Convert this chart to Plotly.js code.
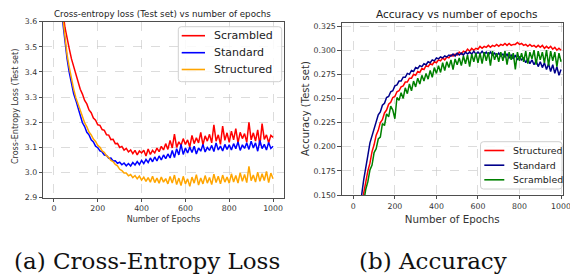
<!DOCTYPE html>
<html>
<head>
<meta charset="utf-8">
<script src="https://cdn.plot.ly/plotly-3.0.1.min.js"></script>
<style>html,body{margin:0;padding:0;background:#fff;}#chart{width:570px;height:275px;}</style>
</head>
<body>
<div id="chart"></div>
<script>
// Epochs: 10, 20, ..., 1000 (x0 = 10, dx = 10)
const EPOCH_START = 10;
const EPOCH_STEP = 10;

// ---- (a) Cross-entropy loss (test set) ----
const lossScrambled = [
  4.40, 4.10, 3.85, 3.65, 3.578, 3.528, 3.492, 3.452, 3.423, 3.388,
  3.362, 3.331, 3.312, 3.287, 3.273, 3.249, 3.238, 3.217, 3.208, 3.190,
  3.188, 3.171, 3.168, 3.150, 3.149, 3.131, 3.132, 3.115, 3.116, 3.100,
  3.104, 3.089, 3.096, 3.082, 3.090, 3.075, 3.088, 3.070, 3.086, 3.078,
  3.089, 3.066, 3.094, 3.072, 3.088, 3.078, 3.097, 3.083, 3.104, 3.090,
  3.115, 3.092, 3.128, 3.098, 3.153, 3.100, 3.122, 3.108, 3.135, 3.112,
  3.130, 3.102, 3.148, 3.115, 3.138, 3.118, 3.160, 3.110, 3.146, 3.125,
  3.152, 3.118, 3.190, 3.125, 3.150, 3.112, 3.185, 3.128, 3.158, 3.120,
  3.165, 3.130, 3.175, 3.118, 3.160, 3.135, 3.155, 3.120, 3.200, 3.130,
  3.158, 3.125, 3.170, 3.108, 3.195, 3.132, 3.150, 3.118, 3.148, 3.140
];
const lossStandard = [
  4.30, 4.00, 3.78, 3.60, 3.518, 3.452, 3.398, 3.357, 3.313, 3.287,
  3.252, 3.228, 3.198, 3.183, 3.160, 3.150, 3.130, 3.122, 3.105, 3.099,
  3.086, 3.082, 3.070, 3.068, 3.057, 3.058, 3.046, 3.047, 3.037, 3.041,
  3.031, 3.038, 3.027, 3.036, 3.026, 3.040, 3.030, 3.044, 3.032, 3.048,
  3.036, 3.052, 3.040, 3.058, 3.043, 3.062, 3.046, 3.066, 3.050, 3.070,
  3.055, 3.074, 3.058, 3.088, 3.060, 3.095, 3.070, 3.112, 3.072, 3.098,
  3.078, 3.102, 3.080, 3.105, 3.074, 3.098, 3.085, 3.112, 3.082, 3.100,
  3.088, 3.108, 3.084, 3.118, 3.090, 3.105, 3.086, 3.112, 3.092, 3.110,
  3.090, 3.115, 3.095, 3.122, 3.088, 3.110, 3.096, 3.118, 3.092, 3.125,
  3.098, 3.118, 3.085, 3.128, 3.095, 3.112, 3.090, 3.120, 3.096, 3.105
];
const lossStructured = [
  4.30, 4.00, 3.80, 3.62, 3.540, 3.468, 3.418, 3.368, 3.332, 3.298,
  3.274, 3.245, 3.224, 3.198, 3.182, 3.161, 3.150, 3.133, 3.124, 3.108,
  3.101, 3.086, 3.080, 3.066, 3.060, 3.048, 3.044, 3.032, 3.027, 3.013,
  3.008, 2.998, 2.998, 2.987, 2.992, 2.980, 2.988, 2.975, 2.986, 2.970,
  2.982, 2.965, 2.980, 2.962, 2.985, 2.960, 2.978, 2.958, 2.982, 2.962,
  2.976, 2.955, 2.984, 2.958, 2.990, 2.952, 2.978, 2.948, 2.985, 2.955,
  2.975, 2.945, 2.982, 2.958, 2.992, 2.950, 2.978, 2.955, 2.988, 2.958,
  2.980, 2.952, 2.994, 2.960, 2.985, 2.955, 2.990, 2.962, 2.982, 2.958,
  2.995, 2.962, 2.988, 2.958, 3.000, 2.965, 2.992, 2.960, 3.025, 2.968,
  2.990, 2.962, 3.002, 2.965, 2.995, 2.968, 3.005, 2.960, 2.998, 2.975
];

// ---- (b) Accuracy (test set) ----
const accStructured = [
  0.050, 0.080, 0.110, 0.135, 0.152, 0.164, 0.175, 0.183, 0.195, 0.202,
  0.212, 0.217, 0.225, 0.228, 0.235, 0.238, 0.244, 0.246, 0.251, 0.252,
  0.257, 0.258, 0.262, 0.263, 0.267, 0.267, 0.271, 0.271, 0.275, 0.274,
  0.278, 0.277, 0.281, 0.280, 0.284, 0.283, 0.286, 0.285, 0.288, 0.287,
  0.290, 0.289, 0.292, 0.290, 0.293, 0.292, 0.295, 0.294, 0.296, 0.295,
  0.298, 0.296, 0.299, 0.298, 0.301, 0.299, 0.302, 0.300, 0.302, 0.301,
  0.304, 0.302, 0.304, 0.303, 0.305, 0.303, 0.305, 0.304, 0.306, 0.304,
  0.306, 0.305, 0.307, 0.305, 0.307, 0.305, 0.306, 0.306, 0.308, 0.306,
  0.307, 0.305, 0.306, 0.304, 0.306, 0.304, 0.305, 0.303, 0.305, 0.303,
  0.305, 0.302, 0.304, 0.302, 0.304, 0.301, 0.303, 0.300, 0.302, 0.300
];
const accStandard = [
  0.060, 0.090, 0.120, 0.150, 0.166, 0.181, 0.191, 0.204, 0.211, 0.220,
  0.225, 0.233, 0.236, 0.243, 0.245, 0.251, 0.252, 0.257, 0.258, 0.263,
  0.264, 0.268, 0.268, 0.272, 0.272, 0.276, 0.275, 0.279, 0.278, 0.282,
  0.281, 0.284, 0.283, 0.286, 0.285, 0.288, 0.287, 0.290, 0.289, 0.292,
  0.291, 0.293, 0.292, 0.294, 0.293, 0.295, 0.294, 0.296, 0.294, 0.297,
  0.295, 0.297, 0.295, 0.298, 0.296, 0.298, 0.296, 0.299, 0.296, 0.298,
  0.296, 0.299, 0.296, 0.298, 0.295, 0.298, 0.295, 0.297, 0.294, 0.297,
  0.294, 0.296, 0.293, 0.296, 0.292, 0.295, 0.291, 0.295, 0.290, 0.293,
  0.290, 0.292, 0.287, 0.291, 0.286, 0.290, 0.285, 0.289, 0.283, 0.288,
  0.282, 0.287, 0.280, 0.286, 0.278, 0.285, 0.276, 0.283, 0.274, 0.280
];
const accScrambled = [
  0.040, 0.070, 0.100, 0.125, 0.143, 0.156, 0.164, 0.176, 0.181, 0.194,
  0.198, 0.208, 0.210, 0.224, 0.222, 0.234, 0.231, 0.242, 0.238, 0.229,
  0.251, 0.248, 0.256, 0.250, 0.261, 0.255, 0.265, 0.258, 0.268, 0.262,
  0.271, 0.265, 0.274, 0.268, 0.276, 0.270, 0.279, 0.272, 0.282, 0.276,
  0.284, 0.277, 0.287, 0.279, 0.288, 0.282, 0.290, 0.280, 0.291, 0.285,
  0.292, 0.284, 0.294, 0.286, 0.295, 0.283, 0.296, 0.288, 0.297, 0.287,
  0.297, 0.286, 0.298, 0.289, 0.298, 0.284, 0.299, 0.290, 0.297, 0.288,
  0.298, 0.289, 0.299, 0.285, 0.298, 0.290, 0.297, 0.280, 0.298, 0.289,
  0.297, 0.288, 0.299, 0.286, 0.298, 0.291, 0.300, 0.285, 0.299, 0.290,
  0.298, 0.287, 0.300, 0.284, 0.299, 0.289, 0.298, 0.283, 0.297, 0.288
];

const lossNames = ['Scrambled', 'Standard', 'Structured'];
const lossColors = ['#ff0000', '#0000ff', '#ffa500'];
const accNames = ['Structured', 'Standard', 'Scrambled'];
const accColors = ['#ff0000', '#00008b', '#008000'];

const xTicks = [0, 200, 400, 600, 800, 1000];
const lossTicks = [2.9, 3.0, 3.1, 3.2, 3.3, 3.4, 3.5, 3.6];
const accTicks = [0.150, 0.175, 0.200, 0.225, 0.250, 0.275, 0.300, 0.325];

const W = 570, H = 275;
const SANS = 'DejaVu Sans, sans-serif';
const SERIF = 'DejaVu Serif, serif';
const px = v => v / W;          // pixel x -> paper
const py = v => 1 - v / H;      // pixel y -> paper

function line(y, name, color, xa, ya) {
  return {
    type: 'scatter', mode: 'lines', name: name, showlegend: false,
    x0: EPOCH_START, dx: EPOCH_STEP, y: y,
    xaxis: xa, yaxis: ya,
    line: {color: color, width: 1.5}
  };
}

const data = [
  line(lossScrambled, lossNames[0], lossColors[0], 'x', 'y'),
  line(lossStandard, lossNames[1], lossColors[1], 'x', 'y'),
  line(lossStructured, lossNames[2], lossColors[2], 'x', 'y'),
  line(accStructured, accNames[0], accColors[0], 'x2', 'y2'),
  line(accStandard, accNames[1], accColors[1], 'x2', 'y2'),
  line(accScrambled, accNames[2], accColors[2], 'x2', 'y2')
];

function axisBase(fs) {
  return {
    showline: true, mirror: true, linecolor: '#222', linewidth: 0.8,
    ticks: 'outside', ticklen: 3.5, tickwidth: 0.8, tickcolor: '#222',
    showgrid: true, gridcolor: '#c4c4c4', griddash: 'dash', gridwidth: 0.6,
    zeroline: false, tickfont: {family: SANS, size: fs, color: '#333'},
    ticklabeloverflow: 'allow', fixedrange: true
  };
}

// Matplotlib-style legend boxes (rounded frame, line handles, labels)
const shapes = [];
const annotations = [];
function roundedBox(x0, y0, x1, y1, r) {
  const P = (x, y) => px(x) + ',' + py(y);
  return 'M' + P(x0 + r, y0) + ' L' + P(x1 - r, y0) + ' Q' + P(x1, y0) + ' ' + P(x1, y0 + r) +
    ' L' + P(x1, y1 - r) + ' Q' + P(x1, y1) + ' ' + P(x1 - r, y1) +
    ' L' + P(x0 + r, y1) + ' Q' + P(x0, y1) + ' ' + P(x0, y1 - r) +
    ' L' + P(x0, y0 + r) + ' Q' + P(x0, y0) + ' ' + P(x0 + r, y0) + ' Z';
}
function legendBox(names, colors, box, rows, handle, textX, fs) {
  shapes.push({
    type: 'path', xref: 'paper', yref: 'paper', layer: 'above',
    path: roundedBox(box[0], box[1], box[2], box[3], 3),
    fillcolor: 'rgba(255,255,255,0.85)', line: {color: '#d0d0d0', width: 1}
  });
  names.forEach((n, i) => {
    shapes.push({
      type: 'line', xref: 'paper', yref: 'paper', layer: 'above',
      x0: px(handle[0]), x1: px(handle[1]), y0: py(rows[i]), y1: py(rows[i]),
      line: {color: colors[i], width: 1.6}
    });
    annotations.push({
      text: n, xref: 'paper', yref: 'paper', x: px(textX), y: py(rows[i]),
      xanchor: 'left', yanchor: 'middle', showarrow: false, borderpad: 0,
      font: {family: SANS, size: fs, color: '#222'}
    });
  });
}
legendBox(lossNames, lossColors, [178.3, 26.7, 281.7, 81.7], [35.7, 52.7, 69.5], [181.7, 205], 213, 11);
legendBox(accNames, accColors, [480.5, 141.7, 562, 189], [150.5, 165.2, 179.8], [484.3, 504.3], 511.5, 9.4);

annotations.push(
  {text: 'Cross-entropy loss (Test set) vs number of epochs', xref: 'paper', yref: 'paper',
   x: px(162.5), y: py(14), xanchor: 'center', yanchor: 'middle', showarrow: false,
   font: {family: SANS, size: 8.7, color: '#222'}},
  {text: 'Accuracy vs number of epochs', xref: 'paper', yref: 'paper',
   x: px(457), y: py(14), xanchor: 'center', yanchor: 'middle', showarrow: false,
   font: {family: SANS, size: 10.5, color: '#222'}},
  {text: 'Cross-Entropy Loss (Test set)', xref: 'paper', yref: 'paper',
   x: px(15), y: py(107), xanchor: 'center', yanchor: 'middle', showarrow: false, textangle: -90,
   font: {family: SANS, size: 8, color: '#333'}},
  {text: 'Accuracy (Test set)', xref: 'paper', yref: 'paper',
   x: px(305), y: py(109), xanchor: 'center', yanchor: 'middle', showarrow: false, textangle: -90,
   font: {family: SANS, size: 10, color: '#333'}},
  {text: '(a) Cross-Entropy Loss', xref: 'paper', yref: 'paper',
   x: px(13.3), y: py(261), xanchor: 'left', yanchor: 'middle', showarrow: false, borderpad: 0,
   font: {family: SERIF, size: 23, color: '#111'}},
  {text: '(b) Accuracy', xref: 'paper', yref: 'paper',
   x: px(358), y: py(261), xanchor: 'left', yanchor: 'middle', showarrow: false, borderpad: 0,
   font: {family: SERIF, size: 23, color: '#111'}}
);

const layout = {
  width: W, height: H, autosize: false,
  margin: {l: 0, r: 0, t: 0, b: 0},
  paper_bgcolor: '#fff', plot_bgcolor: '#fff',
  showlegend: false,
  font: {family: SANS, color: '#222'},
  xaxis: Object.assign(axisBase(7.8), {
    domain: [px(43), px(284)], range: [-50, 1050], tickvals: xTicks,
    anchor: 'y',
    title: {text: 'Number of Epochs', font: {family: SANS, size: 8, color: '#333'}, standoff: 3}
  }),
  yaxis: Object.assign(axisBase(7.8), {
    domain: [py(197.7), py(21.7)], range: [2.9, 3.6], tickvals: lossTicks,
    tickformat: '.1f', anchor: 'x'
  }),
  xaxis2: Object.assign(axisBase(7.8), {
    domain: [px(341.7), px(562.7)], range: [-56, 1008], tickvals: xTicks,
    anchor: 'y2',
    title: {text: 'Number of Epochs', font: {family: SANS, size: 10.3, color: '#333'}, standoff: 6}
  }),
  yaxis2: Object.assign(axisBase(7.8), {
    domain: [py(195), py(22.7)], range: [0.15, 0.3285], tickvals: accTicks,
    tickformat: '.3f', anchor: 'x2'
  }),
  shapes: shapes,
  annotations: annotations
};

Plotly.newPlot('chart', data, layout, {staticPlot: true, displayModeBar: false});
</script>
</body>
</html>
